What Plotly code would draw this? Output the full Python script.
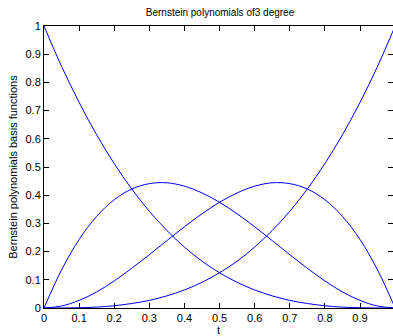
import plotly.graph_objects as go

t = [0, 0.05, 0.1, 0.15, 0.2, 0.25, 0.3, 0.35, 0.4, 0.45, 0.5,
     0.55, 0.6, 0.65, 0.7, 0.75, 0.8, 0.85, 0.9, 0.95, 1]
b0 = [1, 0.857, 0.729, 0.614, 0.512, 0.422, 0.343, 0.275, 0.216, 0.166, 0.125,
      0.091, 0.064, 0.043, 0.027, 0.016, 0.008, 0.003, 0.001, 0.0001, 0]
b1 = [0, 0.135, 0.243, 0.325, 0.384, 0.422, 0.441, 0.444, 0.432, 0.408, 0.375,
      0.334, 0.288, 0.239, 0.189, 0.141, 0.096, 0.057, 0.027, 0.007, 0]
b2 = [0, 0.007, 0.027, 0.057, 0.096, 0.141, 0.189, 0.239, 0.288, 0.334, 0.375,
      0.408, 0.432, 0.444, 0.441, 0.422, 0.384, 0.325, 0.243, 0.135, 0]
b3 = [0, 0.0001, 0.001, 0.003, 0.008, 0.016, 0.027, 0.043, 0.064, 0.091, 0.125,
      0.166, 0.216, 0.275, 0.343, 0.422, 0.512, 0.614, 0.729, 0.857, 1]

title_text = "Bernstein polynomials of3 degree"
x_label = "t"
y_label = "Bernstein polynomials basis functions"

fig = go.Figure()
for series in (b0, b1, b2, b3):
    fig.add_trace(go.Scatter(x=t, y=series, mode="lines",
                             line=dict(color="#0000ff", width=1, shape="spline"),
                             showlegend=False, hoverinfo="skip"))

font_family = "Liberation Sans, Arial, sans-serif"
fig.update_layout(
    width=393, height=336,
    margin=dict(l=44, r=0, t=26, b=28),
    paper_bgcolor="white", plot_bgcolor="white",
    font=dict(family=font_family, size=11, color="black"),
    title=dict(text=title_text, x=220 / 393, xanchor="center",
               y=1 - 12 / 336, yanchor="middle", yref="container",
               font=dict(size=10, color="black")),
)
fig.update_xaxes(range=[0, 0.994], tick0=0, dtick=0.1, ticks="inside", ticklen=5,
                 tickcolor="black", showline=True, linecolor="black", linewidth=1,
                 mirror="ticks", showgrid=False, zeroline=False,
                 tickfont=dict(size=11),
                 title=dict(text=x_label, font=dict(size=11), standoff=2))
fig.update_yaxes(range=[0, 1], tick0=0, dtick=0.1, ticks="inside", ticklen=5,
                 tickcolor="black", showline=True, linecolor="black", linewidth=1,
                 mirror="ticks", showgrid=False, zeroline=False,
                 tickfont=dict(size=11),
                 title=dict(text=y_label, font=dict(size=11), standoff=5))

fig.write_html("out.html")
